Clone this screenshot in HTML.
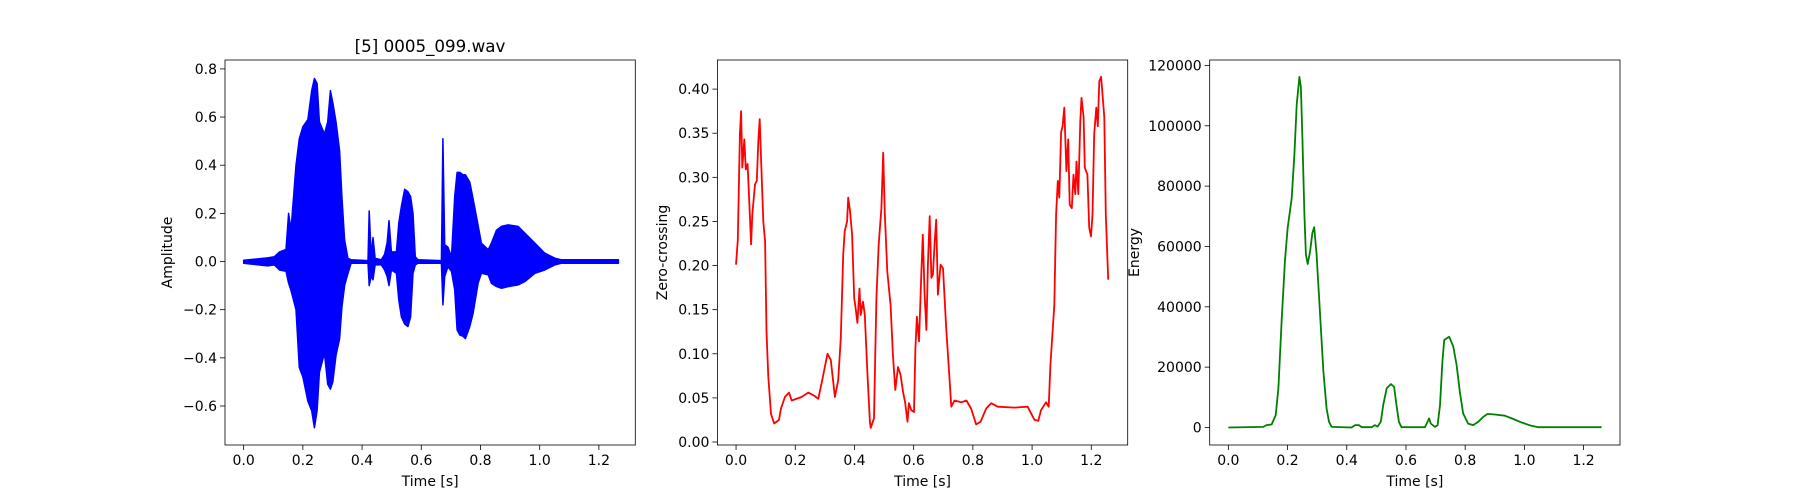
<!DOCTYPE html>
<html><head><meta charset="utf-8"><style>
html,body{margin:0;padding:0;background:#fff;}
svg{display:block;font-family:"DejaVu Sans","Liberation Sans",sans-serif;}
</style></head><body>
<svg id="fig" width="1800" height="500" viewBox="0 0 1800 500" xmlns="http://www.w3.org/2000/svg">
<rect x="0" y="0" width="1800" height="500" fill="#fff"/>
<text x="430" y="52" text-anchor="middle" font-size="16.7">[5] 0005_099.wav</text>
</svg>
<script>
// Waveform envelope
const waveT = [0,0.081,0.104,0.121,0.143,0.152,0.160,0.177,0.188,0.200,0.217,0.230,0.239,0.248,0.256,0.273,0.284,0.293,0.301,0.312,0.324,0.332,0.341,0.352,0.363,0.420,0.424,0.431,0.437,0.444,0.465,0.476,0.485,0.491,0.499,0.516,0.524,0.533,0.544,0.555,0.564,0.572,0.580,0.589,0.668,0.673,0.679,0.690,0.702,0.713,0.721,0.730,0.741,0.749,0.764,0.775,0.792,0.803,0.826,0.837,0.854,0.871,0.893,0.927,0.950,0.984,1.017,1.051,1.074,1.266];
const waveUpper = [0.005,0.015,0.02,0.04,0.05,0.20,0.13,0.40,0.51,0.56,0.59,0.71,0.76,0.74,0.58,0.53,0.58,0.71,0.66,0.58,0.46,0.27,0.09,0.014,0.007,0.004,0.21,0.02,0.10,0.014,0.007,0.03,0.08,0.17,0.04,0.04,0.16,0.23,0.30,0.29,0.27,0.2,0.02,0.007,0.004,0.51,0.07,0.06,0.02,0.27,0.37,0.37,0.36,0.36,0.33,0.26,0.15,0.076,0.049,0.076,0.13,0.146,0.152,0.146,0.118,0.076,0.035,0.014,0.007,0.007];
const waveLower = [-0.007,-0.018,-0.014,-0.035,-0.04,-0.09,-0.12,-0.20,-0.44,-0.48,-0.58,-0.62,-0.69,-0.62,-0.46,-0.38,-0.51,-0.53,-0.50,-0.39,-0.32,-0.19,-0.10,-0.05,-0.007,-0.007,-0.10,-0.06,-0.076,-0.014,-0.014,-0.035,-0.063,-0.10,-0.035,-0.049,-0.16,-0.23,-0.26,-0.27,-0.23,-0.049,-0.014,-0.007,-0.007,-0.18,-0.063,-0.021,-0.042,-0.118,-0.284,-0.305,-0.31,-0.32,-0.27,-0.215,-0.09,-0.049,-0.055,-0.09,-0.104,-0.111,-0.104,-0.097,-0.083,-0.049,-0.035,-0.014,-0.007,-0.007];
// Zero crossing
const zcT = [0,0.006,0.013,0.017,0.021,0.028,0.033,0.039,0.045,0.051,0.055,0.064,0.070,0.075,0.080,0.084,0.092,0.098,0.103,0.109,0.118,0.129,0.145,0.152,0.165,0.179,0.188,0.221,0.244,0.266,0.278,0.291,0.309,0.320,0.334,0.345,0.354,0.362,0.367,0.375,0.379,0.385,0.392,0.399,0.404,0.410,0.417,0.421,0.429,0.435,0.444,0.452,0.455,0.466,0.474,0.482,0.491,0.497,0.502,0.511,0.522,0.530,0.538,0.547,0.556,0.564,0.571,0.579,0.584,0.592,0.601,0.606,0.611,0.618,0.626,0.631,0.637,0.643,0.648,0.654,0.660,0.665,0.671,0.676,0.682,0.691,0.699,0.710,0.721,0.727,0.738,0.761,0.778,0.794,0.811,0.826,0.845,0.862,0.884,0.940,0.985,1.008,1.021,1.030,1.047,1.056,1.062,1.070,1.075,1.081,1.087,1.092,1.098,1.103,1.109,1.116,1.122,1.127,1.134,1.140,1.146,1.150,1.156,1.163,1.167,1.174,1.178,1.187,1.193,1.199,1.204,1.210,1.217,1.222,1.227,1.233,1.238,1.244,1.249,1.257];
const zcV = [0.201,0.229,0.349,0.375,0.311,0.343,0.309,0.315,0.269,0.224,0.258,0.292,0.296,0.341,0.366,0.326,0.250,0.227,0.125,0.074,0.032,0.021,0.025,0.038,0.051,0.056,0.047,0.051,0.056,0.052,0.049,0.070,0.100,0.093,0.051,0.070,0.118,0.212,0.239,0.250,0.277,0.262,0.235,0.163,0.152,0.135,0.174,0.144,0.159,0.144,0.076,0.023,0.016,0.027,0.163,0.224,0.265,0.328,0.262,0.193,0.155,0.099,0.059,0.085,0.076,0.057,0.045,0.023,0.044,0.036,0.034,0.106,0.142,0.114,0.193,0.235,0.167,0.127,0.201,0.256,0.186,0.190,0.227,0.252,0.167,0.201,0.197,0.129,0.072,0.040,0.047,0.045,0.047,0.038,0.020,0.023,0.038,0.044,0.040,0.039,0.040,0.025,0.024,0.036,0.045,0.040,0.087,0.129,0.155,0.258,0.296,0.277,0.351,0.358,0.379,0.307,0.343,0.269,0.265,0.303,0.281,0.318,0.281,0.364,0.390,0.368,0.311,0.303,0.243,0.233,0.258,0.349,0.379,0.358,0.409,0.414,0.394,0.368,0.258,0.184];
// Energy
const enT = [0,0.118,0.129,0.146,0.160,0.169,0.180,0.191,0.200,0.214,0.223,0.231,0.240,0.245,0.250,0.257,0.262,0.268,0.276,0.284,0.290,0.298,0.310,0.321,0.332,0.340,0.349,0.416,0.428,0.441,0.450,0.484,0.495,0.504,0.515,0.523,0.535,0.549,0.560,0.568,0.576,0.585,0.664,0.670,0.678,0.684,0.698,0.707,0.715,0.723,0.729,0.746,0.760,0.771,0.782,0.793,0.810,0.827,0.844,0.861,0.876,0.900,0.934,0.957,0.990,1.024,1.047,1.261];
const enV = [0,200,800,1000,4100,13000,35100,55000,66000,76000,90500,107000,116200,112700,96000,70600,57300,54200,58400,64500,66400,57300,37300,18500,6300,1900,200,0,800,800,100,100,800,300,1900,7400,13000,14400,13500,7400,1900,100,100,1300,3000,1300,200,800,7400,21800,29000,30100,26800,20700,11900,4700,1300,800,1900,3500,4500,4300,3900,3000,1700,550,100,100];

const xTicks = [0,0.2,0.4,0.6,0.8,1.0,1.2];
const xTickLabels = ['0.0','0.2','0.4','0.6','0.8','1.0','1.2'];
const ampTicks = [-0.6,-0.4,-0.2,0,0.2,0.4,0.6,0.8];
const ampTickLabels = ['\u22120.6','\u22120.4','\u22120.2','0.0','0.2','0.4','0.6','0.8'];
const zcTicks = [0,0.05,0.1,0.15,0.2,0.25,0.3,0.35,0.4];
const zcTickLabels = ['0.00','0.05','0.10','0.15','0.20','0.25','0.30','0.35','0.40'];
const enTicks = [0,20000,40000,60000,80000,100000,120000];
const enTickLabels = ['0','20000','40000','60000','80000','100000','120000'];

const NS='http://www.w3.org/2000/svg';
const svg=document.getElementById('fig');
function mk(tag,attrs,parent){const e=document.createElementNS(NS,tag);for(const k in attrs)e.setAttribute(k,attrs[k]);(parent||svg).appendChild(e);return e;}
const TOP=60,BOT=445,W=410.3;
const XMIN=-0.063,XMAX=1.323;

function axes(x0,ymin,ymax,yt,ytl,ylabel,ylabelX,name){
  const g=mk('g',{});
  
  
  const sx=v=>x0+(v-XMIN)/(XMAX-XMIN)*W;
  const sy=v=>BOT-(v-ymin)/(ymax-ymin)*(BOT-TOP);
  xTicks.forEach((t,i)=>{
    const X=sx(t);
    mk('line',{x1:X,x2:X,y1:BOT,y2:BOT+5,stroke:'#000','stroke-width':0.8},g);
    const tx=mk('text',{x:X,y:BOT+20,'text-anchor':'middle','font-size':14},g);
    tx.textContent=xTickLabels[i];
    
    
  });
  yt.forEach((t,i)=>{
    const Y=sy(t);
    mk('line',{x1:x0-5,x2:x0,y1:Y,y2:Y,stroke:'#000','stroke-width':0.8},g);
    const tx=mk('text',{x:x0-8,y:Y+5,'text-anchor':'end','font-size':14},g);
    tx.textContent=ytl[i];
    
    
  });
  const xl=mk('text',{x:x0+W/2,y:BOT+41,'text-anchor':'middle','font-size':14},g);
  xl.textContent='Time [s]';
  
  
  const yl=mk('text',{x:ylabelX,y:(TOP+BOT)/2,'text-anchor':'middle','font-size':14,transform:`rotate(-90 ${ylabelX} ${(TOP+BOT)/2})`},g);
  yl.textContent=ylabel;
  
  
  return {g,sx,sy,x0};
}
function frame(a){
  const r=mk('rect',{x:a.x0,y:TOP,width:W,height:BOT-TOP,fill:'none',stroke:'#000','stroke-width':0.8},a.g);
  
  
}

// Plot 1
const a1=axes(225,-0.762,0.837,ampTicks,ampTickLabels,'Amplitude',172,'waveform-axes');
let pts=waveT.map((t,i)=>a1.sx(t).toFixed(1)+','+a1.sy(waveUpper[i]).toFixed(1));
for(let i=waveT.length-1;i>=0;i--)pts.push(a1.sx(waveT[i]).toFixed(1)+','+a1.sy(waveLower[i]).toFixed(1));
const wf=mk('polygon',{points:pts.join(' '),fill:'#0000ff',stroke:'#0000ff','stroke-width':1.5,'stroke-linejoin':'round'},a1.g);


frame(a1);

// Plot 2
const a2=axes(717.4,-0.0034,0.433,zcTicks,zcTickLabels,'Zero-crossing',667,'zero-crossing-axes');
const zl=mk('polyline',{points:zcT.map((t,i)=>a2.sx(t).toFixed(1)+','+a2.sy(zcV[i]).toFixed(1)).join(' '),fill:'none',stroke:'#ff0000','stroke-width':1.8,'stroke-linejoin':'round'},a2.g);


frame(a2);

// Plot 3
const a3=axes(1209.7,-5800,121800,enTicks,enTickLabels,'Energy',1139,'energy-axes');
const el=mk('polyline',{points:enT.map((t,i)=>a3.sx(t).toFixed(1)+','+a3.sy(enV[i]).toFixed(1)).join(' '),fill:'none',stroke:'#008000','stroke-width':1.8,'stroke-linejoin':'round'},a3.g);


frame(a3);
</script>
</body></html>
